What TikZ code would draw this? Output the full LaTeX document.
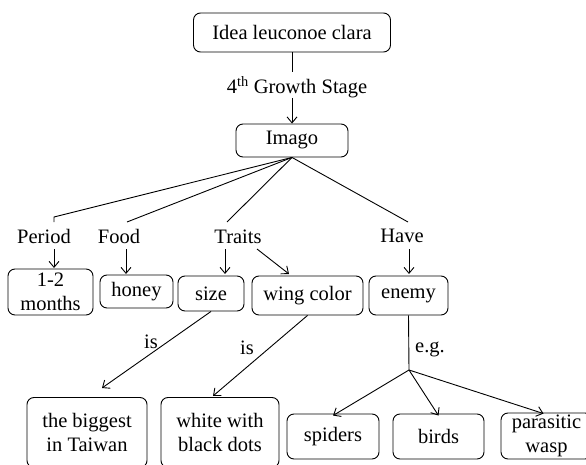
\documentclass[tikz,border=0pt]{standalone}
\usepackage{fontspec}
\setmainfont{Liberation Serif}
\usetikzlibrary{arrows.meta}
\begin{document}
\begin{tikzpicture}[x=1pt,y=-1pt,
  font=\fontsize{20.5}{24}\selectfont,
  box/.style={draw, rounded corners=7pt, line width=0.9pt, align=center, inner sep=0pt},
  lbl/.style={inner sep=0pt},
  ln/.style={line width=0.9pt},
  arr/.style={line width=0.9pt, -{Straight Barb[length=6pt,width=10pt]}}]
\useasboundingbox (0,0) rectangle (586,465);
% nodes
\node[box, minimum width=197pt, minimum height=39pt] (top) at (292,32.5) {Idea leuconoe clara};
\node[lbl] (growth) at (297,87) {4\textsuperscript{th} Growth Stage};
\node[box, minimum width=112pt, minimum height=33pt] (imago) at (292,140.5) {Imago};
\node[lbl, anchor=base] (period) at (44,243) {Period};
\node[lbl, anchor=base] (food) at (119,243) {Food};
\node[lbl, anchor=base] (traits) at (238,243) {Traits};
\node[lbl, anchor=base] (have) at (402,242) {Have};
\node[box, minimum width=85pt, minimum height=46pt] (months) at (50.5,292) {1-2\\months};
\node[box, minimum width=73pt, minimum height=33pt] (honey) at (136.5,291.5) {honey};
\node[box, minimum width=66pt, minimum height=35pt] (size) at (211,293.5) {size};
\node[box, minimum width=111pt, minimum height=39pt] (wing) at (307.5,295.5) {wing color};
\node[box, minimum width=79pt, minimum height=39pt] (enemy) at (408.5,295.5) {enemy};
\node[box, minimum width=120pt, minimum height=70pt] (big) at (87,432.5) {the biggest\\in Taiwan};
\node[box, minimum width=118pt, minimum height=70pt] (white) at (220,432.5) {white with\\black dots};
\node[box, minimum width=92pt, minimum height=45pt] (spiders) at (333,436.5) {spiders};
\node[box, minimum width=91pt, minimum height=45pt] (birds) at (438.5,436.5) {birds};
\node[box, minimum width=91pt, minimum height=46pt] (wasp) at (546.5,436) {parasitic\\wasp};
\node[lbl] (is1) at (151,342) {is};
\node[lbl] (is2) at (247,348) {is};
\node[lbl] (eg) at (430,349) {e.g.};
% coordinates
\coordinate (g1) at (292,72);
\coordinate (g2) at (292,98);
\coordinate (pb) at (54,217);
\coordinate (pe) at (54,222);
\coordinate (fe) at (127,222);
\coordinate (te) at (227,222);
\coordinate (he) at (408,222);
\coordinate (pa) at (54,249);
\coordinate (pt) at (54,268);
\coordinate (fa) at (126,249);
\coordinate (ft) at (126,274);
\coordinate (sa) at (225,249);
\coordinate (st) at (225,274);
\coordinate (wa) at (257,249);
\coordinate (wt) at (289,274);
\coordinate (ha) at (409,249);
\coordinate (ht) at (409,274);
\coordinate (bt) at (102,388);
\coordinate (wht) at (213,396);
\coordinate (junc) at (409,370);
% connectors
\draw[ln] (top.south) -- (g1);
\draw[arr] (g2) -- (imago.north);
\draw[ln] (imago.south) -- (pb) -- (pe);
\draw[ln] (imago.south) -- (fe);
\draw[ln] (imago.south) -- (te);
\draw[ln] (imago.south) -- (he);
\draw[arr] (pa) -- (pt);
\draw[arr] (fa) -- (ft);
\draw[arr] (sa) -- (st);
\draw[arr] (wa) -- (wt);
\draw[arr] (ha) -- (ht);
\draw[arr] (size.south) -- (bt);
\draw[arr] (wing.south) -- (wht);
\draw[ln] (enemy.south) -- (junc);
\draw[arr] (junc) -- ([yshift=-2pt]spiders.north);
\draw[arr] (junc) -- ([yshift=-2pt]birds.north);
\draw[arr] (junc) -- ([yshift=-1pt,xshift=-3pt]wasp.north);
\end{tikzpicture}
\end{document}
